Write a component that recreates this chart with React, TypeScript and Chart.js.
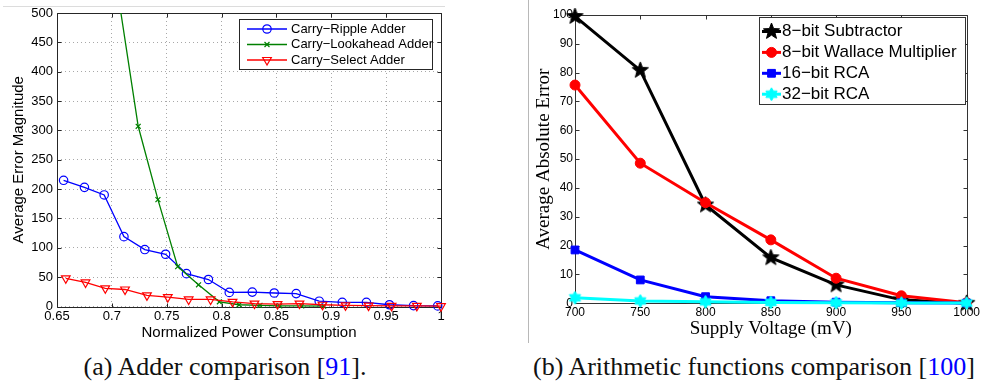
import React, { useEffect, useRef } from "react";
import { Chart, registerables } from "chart.js";
import { drawPoint } from "chart.js/helpers";

Chart.register(...registerables);

// ---------- (a) Adder comparison ----------
const rippleX = [0.656, 0.675, 0.693, 0.711, 0.73, 0.749, 0.768, 0.788, 0.807, 0.828, 0.848, 0.868, 0.889, 0.91, 0.932, 0.953, 0.975, 0.997];
const rippleY = [215, 203, 190, 119, 97, 89, 56, 46, 24, 24.5, 23, 22, 9, 7, 7, 3, 1.5, 1];
const lookaheadX = [0.705, 0.724, 0.742, 0.76, 0.779, 0.798, 0.816, 0.835, 0.853, 0.873, 0.893];
const lookaheadY = [540, 307, 182, 68, 37, 8, 3, 2, 1, 1, 0.5];
const selectX = [0.658, 0.676, 0.694, 0.712, 0.732, 0.751, 0.77, 0.79, 0.81, 0.83, 0.851, 0.871, 0.892, 0.913, 0.934, 0.955, 0.978, 1.0];
const selectY = [48, 41, 31, 29, 19, 16, 12, 12, 8, 5, 4, 5, 3, 2, 1.5, 1, 1, 0.5];
const adderXTicks = [0.65, 0.7, 0.75, 0.8, 0.85, 0.9, 0.95, 1];
const adderYTicks = [0, 50, 100, 150, 200, 250, 300, 350, 400, 450, 500];
const adderLabels = ["Carry\u2212Ripple Adder", "Carry\u2212Lookahead Adder", "Carry\u2212Select Adder"];

// ---------- (b) Arithmetic functions comparison ----------
const voltages = [700, 750, 800, 850, 900, 950, 1000];
const subtractor = [99.5, 80.8, 34.1, 15.8, 6.4, 1.2, 0];
const wallace = [75.7, 48.6, 34.9, 22, 8.7, 2.6, 0.2];
const rca16 = [18.5, 8.1, 2.3, 0.9, 0.4, 0.2, 0.1];
const rca32 = [1.9, 0.8, 0.5, 0.3, 0.2, 0.1, 0.1];
const voltageXTicks = [700, 750, 800, 850, 900, 950, 1000];
const errorYTicks = [0, 10, 20, 30, 40, 50, 60, 70, 80, 90, 100];
const arithLabels = ["8\u2212bit Subtractor", "8\u2212bit Wallace Multiplier", "16\u2212bit RCA", "32\u2212bit RCA"];

const pairs = (xs: number[], ys: number[]) => xs.map((x, i) => ({ x, y: ys[i] }));

function makeStar(points: number, outer: number, inner: number, color: string) {
  const size = Math.ceil(outer * 2 + 2);
  const c = document.createElement("canvas");
  c.width = size;
  c.height = size;
  const g = c.getContext("2d")!;
  g.translate(size / 2, size / 2);
  g.beginPath();
  for (let i = 0; i < points * 2; i++) {
    const r = i % 2 === 0 ? outer : inner;
    const a = -Math.PI / 2 + (i * Math.PI) / points;
    const px = Math.cos(a) * r;
    const py = Math.sin(a) * r;
    if (i === 0) g.moveTo(px, py);
    else g.lineTo(px, py);
  }
  g.closePath();
  g.fillStyle = color;
  g.fill();
  g.strokeStyle = color;
  g.lineWidth = 1;
  g.stroke();
  return c;
}

const framePlugin = {
  id: "frame",
  beforeDatasetsDraw(chart: any, _args: any, o: any) {
    const { ctx, chartArea: a, scales } = chart;
    const L = Math.round(a.left) + 0.5;
    const R = Math.round(a.right) + 0.5;
    const T = Math.round(a.top) + 0.5;
    const B = Math.round(a.bottom) + 0.5;
    ctx.save();
    ctx.setLineDash([]);
    ctx.strokeStyle = o.color;
    ctx.lineWidth = 1;
    ctx.beginPath();
    ctx.rect(L, T, R - L, B - T);
    ctx.stroke();
    const len = o.tickLength;
    ctx.beginPath();
    scales.x.ticks.forEach((t: any) => {
      const px = Math.round(scales.x.getPixelForValue(t.value)) + 0.5;
      ctx.moveTo(px, B);
      ctx.lineTo(px, B - len);
      ctx.moveTo(px, T);
      ctx.lineTo(px, T + len);
    });
    scales.y.ticks.forEach((t: any) => {
      const py = Math.round(scales.y.getPixelForValue(t.value)) + 0.5;
      ctx.moveTo(L, py);
      ctx.lineTo(L + len, py);
      ctx.moveTo(R, py);
      ctx.lineTo(R - len, py);
    });
    ctx.stroke();
    ctx.restore();
  },
};

const boxLegendPlugin = {
  id: "boxLegend",
  afterDraw(chart: any, _args: any, o: any) {
    const { ctx, chartArea: a } = chart;
    const x = Math.round(a.right - o.right - o.width);
    const y = Math.round(a.top + o.top);
    ctx.save();
    ctx.setLineDash([]);
    ctx.fillStyle = "#ffffff";
    ctx.fillRect(x, y, o.width, o.height);
    ctx.strokeStyle = o.borderColor;
    ctx.lineWidth = 1;
    ctx.strokeRect(x + 0.5, y + 0.5, o.width, o.height);
    chart.data.datasets.forEach((ds: any, i: number) => {
      const cy = y + o.firstRow + i * o.rowHeight;
      ctx.strokeStyle = ds.borderColor;
      ctx.lineWidth = ds.borderWidth;
      ctx.beginPath();
      ctx.moveTo(x + o.lineStart, cy);
      ctx.lineTo(x + o.lineEnd, cy);
      ctx.stroke();
      ctx.fillStyle = ds.pointBackgroundColor;
      ctx.strokeStyle = ds.pointBorderColor;
      ctx.lineWidth = ds.pointBorderWidth;
      drawPoint(
        ctx,
        { pointStyle: ds.pointStyle, rotation: ds.pointRotation || 0, radius: ds.pointRadius, borderWidth: ds.pointBorderWidth } as any,
        x + (o.lineStart + o.lineEnd) / 2,
        cy
      );
      ctx.fillStyle = "#000";
      ctx.font = o.font;
      ctx.textBaseline = "middle";
      ctx.textAlign = "left";
      ctx.fillText(ds.label, x + o.textX, cy);
    });
    ctx.restore();
  },
};

export default function App() {
  const leftRef = useRef<HTMLCanvasElement>(null);
  const rightRef = useRef<HTMLCanvasElement>(null);

  useEffect(() => {
    const charts: Chart[] = [];
    const sans = "'Liberation Sans', Arial, sans-serif";
    const serif = "'Liberation Serif', 'Times New Roman', serif";
    const none = "rgba(0,0,0,0)";

    // ---- left chart ----
    if (leftRef.current) {
      const mk = (label: string, data: any, color: string, style: string, radius: number, order: number, extra: any = {}) => ({
        label,
        data,
        borderColor: color,
        borderWidth: 1.3,
        pointStyle: style,
        pointRadius: radius,
        pointBorderColor: color,
        pointBackgroundColor: none,
        pointBorderWidth: 1.2,
        order,
        clip: false,
        ...extra,
      });
      charts.push(
        new Chart(leftRef.current, {
          type: "line",
          data: {
            datasets: [
              mk(adderLabels[0], pairs(rippleX, rippleY), "#0000ff", "circle", 4.2, 3),
              mk(adderLabels[1], pairs(lookaheadX, lookaheadY), "#008000", "crossRot", 3.5, 2, {
                clip: { top: 0, left: false, right: false, bottom: false },
              }),
              mk(adderLabels[2], pairs(selectX, selectY), "#ff0000", "triangle", 5, 1, { pointRotation: 180 }),
            ] as any,
          },
          options: {
            responsive: false,
            animation: false,
            events: [],
            layout: { padding: { left: 0, top: 13, right: 29, bottom: 0 } },
            plugins: {
              legend: { display: false },
              tooltip: { enabled: false },
              frame: { color: "#262626", tickLength: 4 },
              boxLegend: {
                right: 9, top: 6, width: 193, height: 50,
                firstRow: 10, rowHeight: 15.5,
                lineStart: 8, lineEnd: 48, textX: 52,
                borderColor: "#262626",
                font: "13px " + sans,
              },
            } as any,
            scales: {
              x: {
                type: "linear",
                min: adderXTicks[0],
                max: adderXTicks[adderXTicks.length - 1],
                afterBuildTicks: (s: any) => { s.ticks = adderXTicks.map((v) => ({ value: v })); },
                afterFit: (s: any) => { s.height = 38.5; },
                ticks: { color: "#000", font: { family: sans, size: 13 }, padding: 2, maxRotation: 0, callback: (v: any) => String(v) },
                grid: { color: "#a8a8a8", lineWidth: 1, drawTicks: false, borderDash: [1, 3] } as any,
                border: { display: false, dash: [1, 3] },
                title: { display: true, text: "Normalized Power Consumption", color: "#000", font: { family: sans, size: 15 }, padding: { top: 0, bottom: 3 } },
              },
              y: {
                type: "linear",
                min: 0,
                max: 500,
                afterBuildTicks: (s: any) => { s.ticks = adderYTicks.map((v) => ({ value: v })); },
                afterFit: (s: any) => { s.width = 57; },
                ticks: { color: "#000", font: { family: sans, size: 13 }, padding: 4, callback: (v: any) => String(v) },
                grid: { color: "#a8a8a8", lineWidth: 1, drawTicks: false, borderDash: [1, 3] } as any,
                border: { display: false, dash: [1, 3] },
                title: { display: true, text: "Average Error Magnitude", color: "#000", font: { family: sans, size: 15 }, padding: { top: 9.5, bottom: 0 } },
              },
            },
          },
          plugins: [framePlugin, boxLegendPlugin],
        } as any)
      );
    }

    // ---- right chart ----
    if (rightRef.current) {
      const star = makeStar(5, 8.5, 3.6, "#000000");
      const hexa = makeStar(6, 6.5, 3.8, "#00ffff");
      const mk = (label: string, ys: number[], color: string, style: any, radius: number, order: number) => ({
        label,
        data: pairs(voltages, ys),
        borderColor: color,
        borderWidth: 3,
        pointStyle: style,
        pointRadius: radius,
        pointBorderColor: color,
        pointBackgroundColor: color,
        pointBorderWidth: 1,
        order,
        clip: false,
      });
      charts.push(
        new Chart(rightRef.current, {
          type: "line",
          data: {
            datasets: [
              mk(arithLabels[0], subtractor, "#000000", star, 7, 4),
              mk(arithLabels[1], wallace, "#ff0000", "circle", 5, 3),
              mk(arithLabels[2], rca16, "#0000ff", "rect", 5.5, 2),
              mk(arithLabels[3], rca32, "#00ffff", hexa, 6, 1),
            ] as any,
          },
          options: {
            responsive: false,
            animation: false,
            events: [],
            layout: { padding: { left: 0, top: 15, right: 14, bottom: 0 } },
            plugins: {
              legend: { display: false },
              tooltip: { enabled: false },
              frame: { color: "#333333", tickLength: 4 },
              boxLegend: {
                right: 2, top: 2, width: 206, height: 87,
                firstRow: 14.5, rowHeight: 20.9,
                lineStart: 3, lineEnd: 22, textX: 23,
                borderColor: "#333333",
                font: "17px " + sans,
              },
            } as any,
            scales: {
              x: {
                type: "linear",
                min: voltageXTicks[0],
                max: voltageXTicks[voltageXTicks.length - 1],
                afterBuildTicks: (s: any) => { s.ticks = voltageXTicks.map((v) => ({ value: v })); },
                afterFit: (s: any) => { s.height = 41.7; },
                ticks: { color: "#000", font: { family: sans, size: 12 }, padding: 2, maxRotation: 0, callback: (v: any) => String(v) },
                grid: { display: false, drawTicks: false },
                border: { display: false },
                title: { display: true, text: "Supply Voltage (mV)", color: "#000", font: { family: serif, size: 19 }, padding: { top: 0, bottom: 5 } },
              },
              y: {
                type: "linear",
                min: 0,
                max: 100,
                afterBuildTicks: (s: any) => { s.ticks = errorYTicks.map((v) => ({ value: v })); },
                afterFit: (s: any) => { s.width = 47; },
                ticks: { color: "#000", font: { family: sans, size: 12 }, padding: 2, callback: (v: any) => String(v) },
                grid: { display: false, drawTicks: false },
                border: { display: false },
                title: { display: true, text: "Average Absolute Error", color: "#000", font: { family: serif, size: 19 }, padding: { top: 4.6, bottom: 0 } },
              },
            },
          },
          plugins: [framePlugin, boxLegendPlugin],
        } as any)
      );
    }

    return () => charts.forEach((c) => c.destroy());
  }, []);

  const captionStyle: React.CSSProperties = {
    position: "absolute",
    top: 352,
    width: 500,
    textAlign: "center",
    fontFamily: "'Liberation Serif', 'Times New Roman', serif",
    fontSize: 26,
    lineHeight: "30px",
    color: "#111",
    whiteSpace: "nowrap",
  };

  return (
    <div style={{ position: "absolute", left: 0, top: 0, width: 982, height: 385, background: "#fff", overflow: "hidden" }}>
      <div style={{ position: "absolute", left: 3, top: 6, width: 442, height: 1, background: "#dcdcdc" }} />
      <div style={{ position: "absolute", left: 528, top: 0, width: 1, height: 343, background: "#b8b8b8" }} />
      <canvas ref={leftRef} width={470} height={345} style={{ position: "absolute", left: 0, top: 0 }} />
      <canvas ref={rightRef} width={454} height={345} style={{ position: "absolute", left: 528, top: 0 }} />
      <div style={{ ...captionStyle, left: 225 - 250 }}>
        (a) Adder comparison [<span style={{ color: "#0000ff" }}>91</span>].
      </div>
      <div style={{ ...captionStyle, left: 754 - 250 }}>
        (b) Arithmetic functions comparison [<span style={{ color: "#0000ff" }}>100</span>]
      </div>
    </div>
  );
}
